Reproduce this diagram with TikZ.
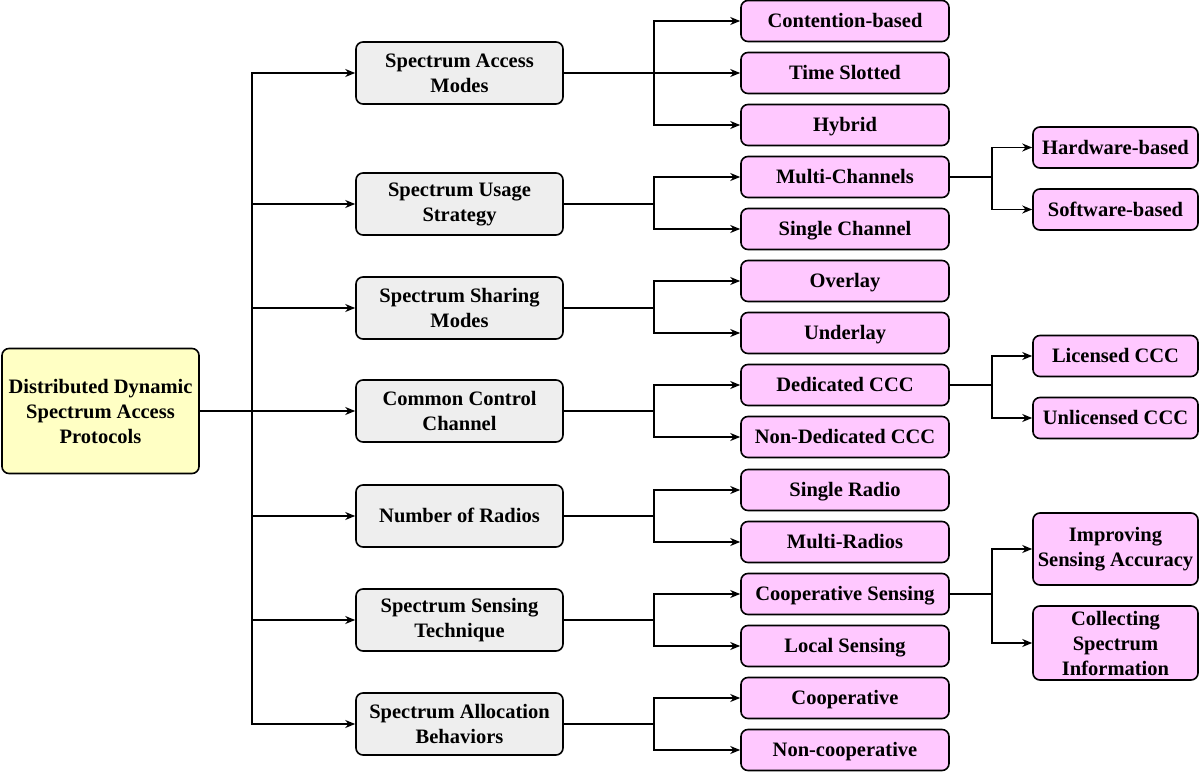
\documentclass[tikz,border=0pt]{standalone}
\usepackage{fontspec}
\setmainfont{Liberation Serif}
\usetikzlibrary{arrows.meta}
\begin{document}
\begin{tikzpicture}[x=1pt,y=-1pt,
  base/.style={draw=black,line width=1.6pt,rounded corners=7pt,align=center,inner sep=0pt,
    font=\fontsize{20.5}{25}\selectfont\bfseries},
  rootbox/.style={base,fill=rootfill,minimum width=197pt,minimum height=125pt},
  midbox/.style={base,fill=midfill,minimum width=207pt,minimum height=62pt},
  leafbox/.style={base,fill=leaffill,minimum width=208pt,minimum height=41pt,text height=13.5pt,text depth=0pt},
  subbox/.style={base,fill=leaffill,minimum width=165pt,minimum height=41pt},
  oneline/.style={text height=13.5pt,text depth=0pt},
  conn/.style={line width=1.6pt,-{Stealth[length=10pt,width=8pt]}}
]
\definecolor{rootfill}{RGB}{255,255,196}
\definecolor{midfill}{RGB}{238,238,238}
\definecolor{leaffill}{RGB}{255,200,255}
\useasboundingbox (0,0) rectangle (1200,773);

\node[rootbox] (root) at (100.5,411) {Distributed Dynamic\\Spectrum Access\\Protocols};

\node[midbox] (m1) at (459.5,73)  {Spectrum Access\\Modes};
\node[midbox] (m2) at (459.5,204) {Spectrum Usage\\Strategy};
\node[midbox] (m3) at (459.5,308) {Spectrum Sharing\\Modes};
\node[midbox] (m4) at (459.5,411) {Common Control\\Channel};
\node[midbox,oneline] (m5) at (459.5,516) {Number of Radios};
\node[midbox] (m6) at (459.5,620) {Spectrum Sensing\\Technique};
\node[midbox] (m7) at (459.5,724) {Spectrum Allocation\\Behaviors};

\node[leafbox] (l1)  at (845,21)  {Contention-based};
\node[leafbox] (l2)  at (845,73)  {Time Slotted};
\node[leafbox] (l3)  at (845,125) {Hybrid};
\node[leafbox] (l4)  at (845,177) {Multi-Channels};
\node[leafbox] (l5)  at (845,229) {Single Channel};
\node[leafbox] (l6)  at (845,281) {Overlay};
\node[leafbox] (l7)  at (845,333) {Underlay};
\node[leafbox] (l8)  at (845,385) {Dedicated CCC};
\node[leafbox] (l9)  at (845,437) {Non-Dedicated CCC};
\node[leafbox] (l10) at (845,490) {Single Radio};
\node[leafbox] (l11) at (845,542) {Multi-Radios};
\node[leafbox] (l12) at (845,594) {Cooperative Sensing};
\node[leafbox] (l13) at (845,646) {Local Sensing};
\node[leafbox] (l14) at (845,698) {Cooperative};
\node[leafbox] (l15) at (845,750) {Non-cooperative};

\node[subbox,oneline] (s1) at (1115.5,147.5) {Hardware-based};
\node[subbox,oneline] (s2) at (1115.5,209.5) {Software-based};
\node[subbox,oneline] (s3) at (1115.5,356) {Licensed CCC};
\node[subbox,oneline] (s4) at (1115.5,418) {Unlicensed CCC};
\node[subbox,minimum height=72pt] (s5) at (1115.5,549) {Improving\\Sensing Accuracy};
\node[subbox,minimum height=74pt] (s6) at (1115.5,643) {Collecting\\Spectrum\\Information};

\foreach \m in {m1,m2,m3,m4,m5,m6,m7}
  \draw[conn] (root.east) -- ++(52,0) |- (\m.west);

\foreach \m/\l in {m1/l1,m1/l2,m1/l3,m2/l4,m2/l5,m3/l6,m3/l7,m4/l8,m4/l9,m5/l10,m5/l11,m6/l12,m6/l13,m7/l14,m7/l15}
  \draw[conn] (\m.east) -- ++(90,0) |- (\l.west);

\foreach \l/\s in {l4/s1,l4/s2,l8/s3,l8/s4,l12/s5,l12/s6}
  \draw[conn] (\l.east) -- ++(42,0) |- (\s.west);
\end{tikzpicture}
\end{document}
